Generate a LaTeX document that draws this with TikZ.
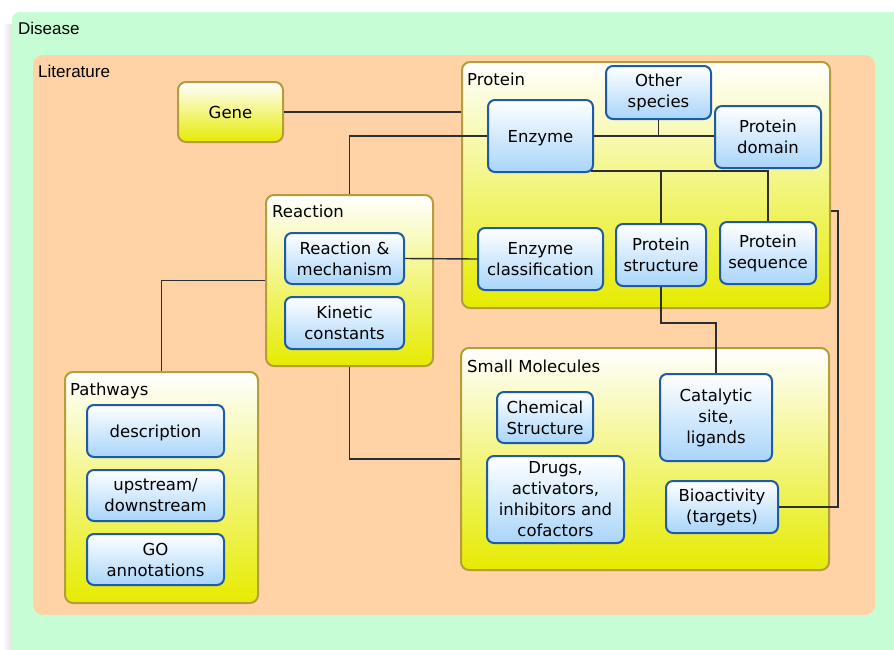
\documentclass[tikz,border=0pt]{standalone}
\usepackage{fontspec}
\setmainfont{DejaVu Sans}
\newfontfamily\arialf{Liberation Sans}
\usetikzlibrary{calc}
\definecolor{dgreen}{HTML}{C6FDD5}
\definecolor{litorange}{HTML}{FFD3A6}
\definecolor{cyellow}{HTML}{E6EB00}
\definecolor{colive}{HTML}{B39D3C}
\definecolor{bblue}{HTML}{1E5AA8}
\definecolor{bfill}{HTML}{A8D5FA}
\definecolor{cline}{HTML}{2E2E2E}
\newcommand{\bx}[7]{\node[#2, minimum width={#5-#3}, minimum height={#6-#4}] (#1) at ({(#3+#5)/2},{(#4+#6)/2}) {#7};}
\begin{document}
\begin{tikzpicture}[x=1pt,y=-1pt,
  container/.style={draw=colive, line width=2pt, rounded corners=8pt, top color=white, bottom color=cyellow, inner sep=0pt},
  yellowbox/.style={draw=colive, line width=2pt, rounded corners=8pt, top color=white, bottom color=cyellow, inner sep=0pt, font=\fontsize{16.5}{21}\selectfont},
  bluebox/.style={draw=bblue, line width=2pt, rounded corners=7pt, top color=white, bottom color=bfill, inner sep=0pt, align=center, font=\fontsize{16.5}{21}\selectfont},
  oneline/.style={text height=12pt, text depth=0pt},
  clabel/.style={anchor=north west, inner sep=0pt, font=\fontsize{16.5}{20}\selectfont},
  olabel/.style={anchor=north west, inner sep=0pt, font=\arialf\fontsize{17}{20}\selectfont},
  conn/.style={draw=cline, line width=1.4pt}
]
\useasboundingbox (0,0) rectangle (894,649);
\fill[white] (0,0) rectangle (894,649);
\fill[left color=white, right color=gray!22] (2,24) rectangle (12,649);
\begin{scope}
\clip (0,0) rectangle (894,649);
\fill[dgreen, rounded corners=8pt] (12,12) rectangle (910,665);
\end{scope}
\node[olabel] (lbldisease) at (18,22) {Disease};
\fill[litorange, rounded corners=10pt] (33,55) rectangle (875,615);
\node[olabel] (lbllit) at (38,65) {Literature};

% containers
\bx{protein}{container}{462}{62}{830}{308}{}
\node[clabel] (lblprotein) at (467,73) {Protein};
\bx{reaction}{container}{266}{195}{433}{366}{}
\node[clabel] (lblreaction) at (272,205) {Reaction};
\bx{smallmol}{container}{461}{348}{829}{570}{}
\node[clabel] (lblsmall) at (467,360) {Small Molecules};
\bx{pathways}{container}{65}{372}{258}{603}{}
\node[clabel] (lblpath) at (70,383) {Pathways};

\bx{gene}{yellowbox,oneline}{178}{82}{283}{142}{Gene}

% protein
\bx{other}{bluebox}{606}{66}{711}{119}{Other\\species}
\bx{enzyme}{bluebox,oneline}{488}{100}{593}{172}{Enzyme}
\bx{pdomain}{bluebox}{715}{106}{821}{168}{Protein\\domain}
\bx{ecl}{bluebox}{478}{228}{603}{290}{Enzyme\\classification}
\bx{pstruct}{bluebox}{616}{224}{706}{286}{Protein\\structure}
\bx{pseq}{bluebox}{720}{222}{816}{284}{Protein\\sequence}

% reaction
\bx{rxmech}{bluebox}{285}{233}{404}{284}{Reaction \&\\mechanism}
\bx{kinetic}{bluebox}{285}{297}{404}{349}{Kinetic\\constants}

% small molecules
\bx{chem}{bluebox}{497}{392}{593}{443}{Chemical\\Structure}
\bx{drugs}{bluebox}{487}{456}{624}{543}{Drugs,\\activators,\\inhibitors and\\cofactors}
\bx{catal}{bluebox}{660}{374}{772}{461}{Catalytic\\site,\\ligands}
\bx{bio}{bluebox}{666}{481}{778}{533}{Bioactivity\\(targets)}

% pathways
\bx{desc}{bluebox,oneline}{87}{405}{224}{457}{description}
\bx{updown}{bluebox}{87}{470}{224}{521}{upstream/\\downstream}
\bx{goann}{bluebox}{87}{534}{224}{585}{GO\\annotations}

% connectors
\coordinate (ej) at (591,171);
\coordinate (k1) at (661,323);
\coordinate (k2) at (838,211);
\draw[conn] (gene.east) -- (gene.east -| protein.west);
\draw[conn] (reaction.north) |- (enzyme.west);
\draw[conn] (enzyme.east) -- (enzyme.east -| pdomain.west);
\draw[conn] (other.south) -- (other.south |- enzyme.east);
\draw[conn] (ej) -| (pseq.north);
\draw[conn] (pstruct.north) -- (pstruct.north |- ej);
\draw[conn] (rxmech.east) -- (ecl.west);
\draw[conn] (pstruct.south) -- (k1) -| (catal.north);
\draw[conn] (protein.east |- k2) -- (k2) |- (bio.east);
\draw[conn] (reaction.south) |- (smallmol.west);
\draw[conn] (pathways.north) |- (reaction.west);
\end{tikzpicture}
\end{document}
